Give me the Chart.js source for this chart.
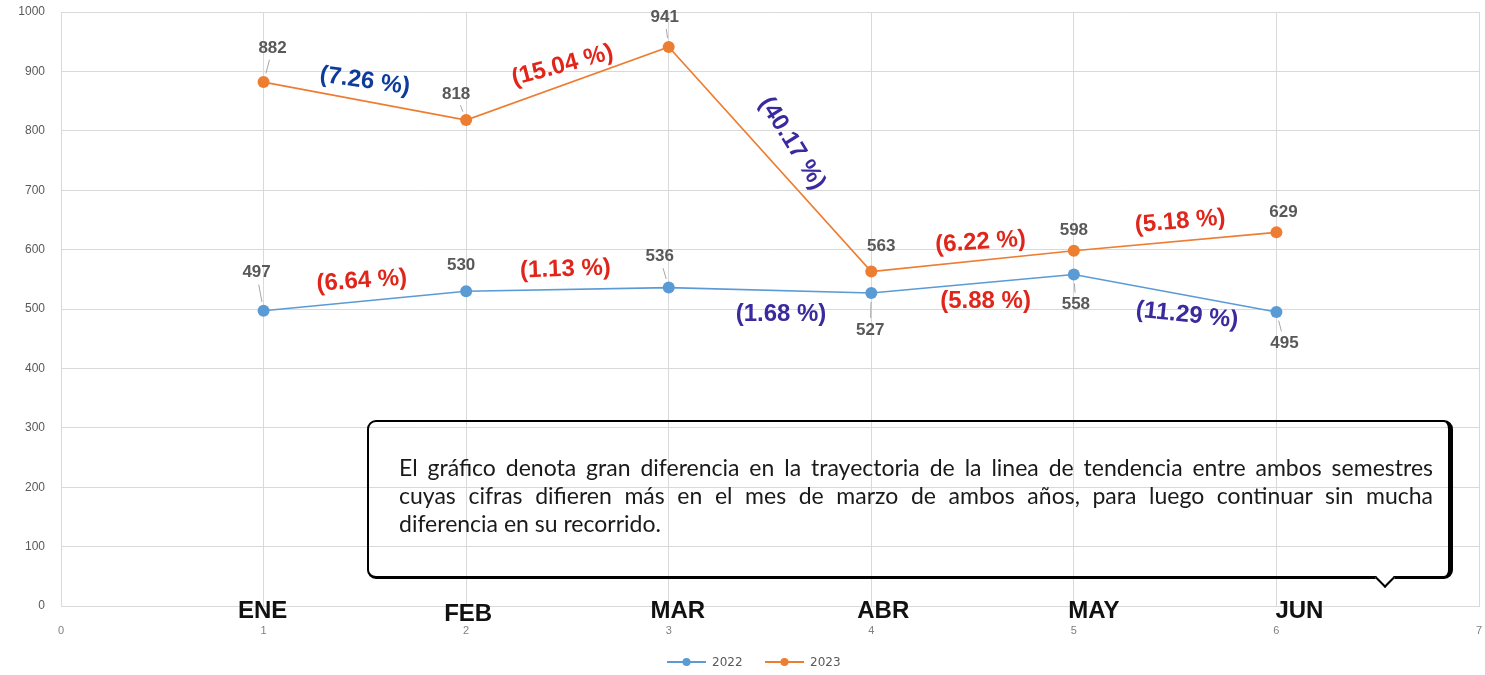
<!DOCTYPE html>
<html>
<head>
<meta charset="utf-8">
<script src="https://cdn.jsdelivr.net/npm/chart.js@4.4.0/dist/chart.umd.min.js"></script>
<style>
  body { margin: 0; background: #fff; }
  #wrap { position: relative; width: 1485px; height: 675px; }
  .note {
    position: absolute; left: 367px; top: 420px; width: 1079px; height: 154px;
    border: 2px solid #000; border-right-width: 5px; border-bottom-width: 3px; border-radius: 9px;
    font-family: Lato, "Noto Sans", sans-serif; font-size: 20px; color: #1a1a1a;
    box-sizing: content-box;
  }
  .note .txt { position: absolute; left: 30px; top: 31px; width: 1034px; line-height: 28px; }
  .note .ln { text-align: justify; text-align-last: justify; white-space: nowrap; }
  .note .ln.last { text-align-last: left; }
  .notch {
    position: absolute; left: 1009px; bottom: -9px; width: 12px; height: 12px;
    background: #fff; border-right: 2px solid #000; border-bottom: 2px solid #000;
    transform: rotate(45deg);
  }
</style>
</head>
<body>
<div id="wrap">
  <canvas id="c" width="1485" height="675"></canvas>
  <div class="note">
    <div class="txt">
      <div class="ln">El gráfico denota gran diferencia en la trayectoria de la linea de tendencia entre ambos semestres</div>
      <div class="ln">cuyas cifras difieren más en el mes de marzo de ambos años, para luego continuar sin mucha</div>
      <div class="ln last">diferencia en su recorrido.</div>
    </div>
    <div class="notch"></div>
  </div>
</div>
<script>
// data
const months = ['ENE', 'FEB', 'MAR', 'ABR', 'MAY', 'JUN'];
const monthIndex = [1, 2, 3, 4, 5, 6];
const values2022 = [497, 530, 536, 527, 558, 495];
const values2023 = [882, 818, 941, 563, 598, 629];
const pct2022 = ['(6.64 %)', '(1.13 %)', '(1.68 %)', '(5.88 %)', '(11.29 %)'];
const pct2023 = ['(7.26 %)', '(15.04 %)', '(40.17 %)', '(6.22 %)', '(5.18 %)'];

// styling / placement (pixels)
const RED = '#e0261b', NAVY = '#0d3c9c', PURPLE = '#3a2a9e';
const pctStyle2022 = [
  [-3, -20, -4, RED], [-2, -20, -2, RED], [11, 24, 0, PURPLE], [13, 18, 0, RED], [12, 22, 6, PURPLE]
];
const pctStyle2023 = [
  [0, -20, 8, NAVY], [-5, -18, -15, RED], [22, -16, 58, PURPLE], [8, -19, -4, RED], [5, -20, -5, RED]
];
const lblOff2022 = [[-7, -38], [-5, -26], [-9, -31], [-1, 37], [2, 30], [8, 31]];
const lblOff2023 = [[9, -34], [-10, -26], [-4, -30], [10, -25], [0, -20], [7, -20]];
const monthOff = [[-1, 0], [2, 3], [9, 0], [12, 0], [20, 0], [23, 0]];

const toPts = vals => vals.map((v, i) => ({ x: monthIndex[i], y: v }));

// fit the note text so the first line fills the box like the original
(function fitNote() {
  const probe = document.createElement('span');
  probe.style.cssText = 'position:absolute;visibility:hidden;white-space:nowrap;font-family:Lato,"Noto Sans",sans-serif;font-size:20px';
  probe.textContent = document.querySelector('.note .ln').textContent;
  document.body.appendChild(probe);
  const w = probe.getBoundingClientRect().width;
  probe.remove();
  const size = Math.min(23, 20 * 1000 / w);
  document.querySelector('.note').style.fontSize = size.toFixed(2) + 'px';
})();

const annotations = {
  id: 'annotations',
  afterDatasetsDraw(chart) {
    const ctx = chart.ctx;
    const xs = chart.scales.x, ys = chart.scales.y;
    const sets = [[values2022, lblOff2022, pct2022, pctStyle2022], [values2023, lblOff2023, pct2023, pctStyle2023]];
    ctx.save();
    sets.forEach(([vals, offs, pcts, pst]) => {
      // value labels with leader lines
      vals.forEach((v, i) => {
        const px = xs.getPixelForValue(monthIndex[i]), py = ys.getPixelForValue(v);
        const [dx, dy] = offs[i];
        const d = Math.hypot(dx, dy);
        if (d > 27) {
          const ux = dx / d, uy = dy / d;
          ctx.strokeStyle = '#a6a6a6'; ctx.lineWidth = 1;
          ctx.beginPath();
          ctx.moveTo(px + ux * 9, py + uy * 9);
          ctx.lineTo(px + ux * (d - 12), py + uy * (d - 12));
          ctx.stroke();
        }
        ctx.fillStyle = '#595959';
        ctx.font = 'bold 17px "Liberation Sans", Arial, sans-serif';
        ctx.textAlign = 'center'; ctx.textBaseline = 'middle';
        ctx.fillText(String(v), px + dx, py + dy);
      });
      // percentage change labels between months
      pcts.forEach((t, i) => {
        const x0 = xs.getPixelForValue(monthIndex[i]), y0 = ys.getPixelForValue(vals[i]);
        const x1 = xs.getPixelForValue(monthIndex[i + 1]), y1 = ys.getPixelForValue(vals[i + 1]);
        const [dx, dy, ang, col] = pst[i];
        ctx.save();
        ctx.translate((x0 + x1) / 2 + dx, (y0 + y1) / 2 + dy);
        ctx.rotate(ang * Math.PI / 180);
        ctx.fillStyle = col;
        ctx.font = 'bold 24px "Liberation Sans", Arial, sans-serif';
        ctx.textAlign = 'center'; ctx.textBaseline = 'middle';
        ctx.fillText(t, 0, 0);
        ctx.restore();
      });
    });
    // month names
    ctx.fillStyle = '#111';
    ctx.font = 'bold 24px "Liberation Sans", Arial, sans-serif';
    ctx.textAlign = 'center'; ctx.textBaseline = 'middle';
    months.forEach((m, i) => {
      ctx.fillText(m, xs.getPixelForValue(monthIndex[i]) + monthOff[i][0], chart.chartArea.bottom + 5 + monthOff[i][1]);
    });
    // legend
    ctx.font = '12px "DejaVu Sans", sans-serif';
    ctx.textAlign = 'left';
    let lx = 667;
    chart.data.datasets.forEach(ds => {
      ctx.strokeStyle = ds.borderColor; ctx.lineWidth = 2;
      ctx.beginPath(); ctx.moveTo(lx, 662); ctx.lineTo(lx + 39, 662); ctx.stroke();
      ctx.fillStyle = ds.borderColor;
      ctx.beginPath(); ctx.arc(lx + 19.5, 662, 4, 0, Math.PI * 2); ctx.fill();
      ctx.fillStyle = '#595959';
      ctx.fillText(ds.label, lx + 45, 663);
      lx += 98;
    });
    ctx.restore();
  }
};

new Chart(document.getElementById('c'), {
  type: 'line',
  data: {
    datasets: [
      { label: '2022', data: toPts(values2022), borderColor: '#5b9bd5', backgroundColor: '#5b9bd5',
        borderWidth: 1.6, pointRadius: 6, pointBorderWidth: 0, tension: 0 },
      { label: '2023', data: toPts(values2023), borderColor: '#ed7d31', backgroundColor: '#ed7d31',
        borderWidth: 1.6, pointRadius: 6, pointBorderWidth: 0, tension: 0 }
    ]
  },
  options: {
    responsive: false,
    animation: false,
    layout: { padding: { top: 12, right: -3, left: 0, bottom: 0 } },
    plugins: { legend: { display: false }, tooltip: { enabled: false } },
    scales: {
      x: {
        type: 'linear', min: 0, max: 7,
        ticks: { stepSize: 1, color: '#808080', padding: 18, font: { size: 11 } },
        grid: { color: '#d9d9d9', drawTicks: false },
        border: { color: '#d9d9d9' },
        afterFit: s => { s.height = 69; s.paddingLeft = 0; s.paddingRight = 0; }
      },
      y: {
        min: 0, max: 1000,
        ticks: { stepSize: 100, color: '#595959', padding: 16, font: { size: 12 }, callback: v => String(v) },
        grid: { color: '#d9d9d9', drawTicks: false },
        border: { color: '#d9d9d9' },
        afterFit: s => { s.width = 61; s.paddingTop = 0; s.paddingBottom = 0; }
      }
    }
  },
  plugins: [annotations]
});
</script>
</body>
</html>
